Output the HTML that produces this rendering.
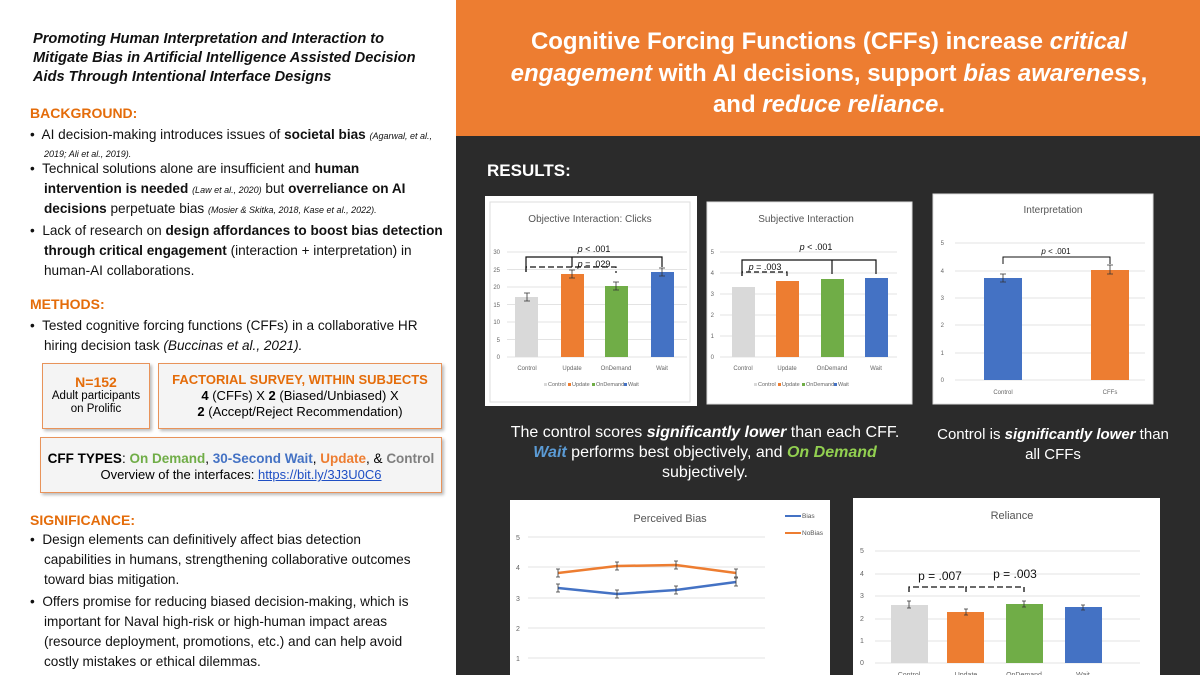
<!DOCTYPE html>
<html><head><meta charset="utf-8"><style>
body{margin:0;width:1200px;height:675px;overflow:hidden;font-family:"Liberation Sans",sans-serif;background:#fff;position:relative}
.l{position:absolute;white-space:nowrap;font-size:13.6px;color:#111}
.h{position:absolute;font-size:14px;font-weight:bold;color:#e46c0a}
.t{position:absolute;left:33px;font-size:14.6px;font-weight:bold;font-style:italic;color:#111;white-space:nowrap}
.s{font-size:9px;font-style:italic}
.box{position:absolute;border:1px solid #e8935a;background:#f4f4f4;box-shadow:2px 2px 3px #bbb;text-align:center;font-size:13px;line-height:16px}
</style></head><body>
<div class="t" style="top:31px">Promoting Human Interpretation and Interaction to</div>
<div class="t" style="top:50px">Mitigate Bias in Artificial Intelligence Assisted Decision</div>
<div class="t" style="top:69px">Aids Through Intentional Interface Designs</div>
<div class="h" style="left:30px;top:105px">BACKGROUND:</div>
<div class="l" style="left:30px;top:127px">•&nbsp; AI decision-making introduces issues of <b>societal bias</b> <span class="s">(Agarwal, et al.,</span></div>
<div class="l" style="left:44px;top:145px"><span class="s">2019; Ali et al., 2019).</span></div>
<div class="l" style="left:30px;top:161px">•&nbsp; Technical solutions alone are insufficient and <b>human</b></div>
<div class="l" style="left:44px;top:181px"><b>intervention is needed</b> <span class="s">(Law et al., 2020)</span> but <b>overreliance on AI</b></div>
<div class="l" style="left:44px;top:201px"><b>decisions</b> perpetuate bias <span class="s">(Mosier &amp; Skitka, 2018, Kase et al., 2022).</span></div>
<div class="l" style="left:30px;top:223px">•&nbsp; Lack of research on <b>design affordances to boost bias detection</b></div>
<div class="l" style="left:44px;top:243px"><b>through critical engagement</b> (interaction + interpretation) in</div>
<div class="l" style="left:44px;top:263px">human-AI collaborations.</div>
<div class="h" style="left:30px;top:296px">METHODS:</div>
<div class="l" style="left:30px;top:318px">•&nbsp; Tested cognitive forcing functions (CFFs) in a collaborative HR</div>
<div class="l" style="left:44px;top:338px">hiring decision task <i>(Buccinas et al., 2021).</i></div>
<div class="box" style="left:42px;top:363px;width:106px;height:64px"><div style="color:#e46c0a;font-weight:bold;font-size:14px;margin-top:10px">N=152</div><div style="font-size:11.5px;line-height:13px">Adult participants<br>on Prolific</div></div>
<div class="box" style="left:158px;top:363px;width:282px;height:64px"><div style="color:#e46c0a;font-weight:bold;margin-top:8px">FACTORIAL SURVEY, WITHIN SUBJECTS</div><div><b>4</b> (CFFs) X <b>2</b> (Biased/Unbiased) X</div><div><b>2</b> (Accept/Reject Recommendation)</div></div>
<div class="box" style="left:40px;top:437px;width:400px;height:54px"><div style="margin-top:13px;font-size:13.5px"><b>CFF TYPES</b>: <b style="color:#70ad47">On Demand</b>, <b style="color:#4472c4">30-Second Wait</b>, <b style="color:#ed7d31">Update</b>, &amp; <b style="color:#7f7f7f">Control</b></div><div>Overview of the interfaces: <span style="color:#1f4fc4;text-decoration:underline">https://bit.ly/3J3U0C6</span></div></div>
<div class="h" style="left:30px;top:512px">SIGNIFICANCE:</div>
<div class="l" style="left:30px;top:532px">•&nbsp; Design elements can definitively affect bias detection</div>
<div class="l" style="left:44px;top:552px">capabilities in humans, strengthening collaborative outcomes</div>
<div class="l" style="left:44px;top:572px">toward bias mitigation.</div>
<div class="l" style="left:30px;top:594px">•&nbsp; Offers promise for reducing biased decision-making, which is</div>
<div class="l" style="left:44px;top:614px">important for Naval high-risk or high-human impact areas</div>
<div class="l" style="left:44px;top:634px">(resource deployment, promotions, etc.) and can help avoid</div>
<div class="l" style="left:44px;top:654px">costly mistakes or ethical dilemmas.</div>

<svg style="position:absolute;left:0;top:0" width="1200" height="675" font-family="Liberation Sans, sans-serif">
<rect x="456" y="0" width="744" height="675" fill="#2b2b2b"/>
<rect x="456" y="0" width="744" height="136" fill="#ed7d31"/>
<g fill="#fff" font-weight="bold" font-size="24" text-anchor="middle">
<text x="829" y="49">Cognitive Forcing Functions (CFFs) increase <tspan font-style="italic">critical</tspan></text>
<text x="829" y="81"><tspan font-style="italic">engagement</tspan> with AI decisions, support <tspan font-style="italic">bias awareness</tspan>,</text>
<text x="829" y="112">and <tspan font-style="italic">reduce reliance</tspan>.</text>
</g>
<text x="487" y="176" fill="#fff" font-weight="bold" font-size="17">RESULTS:</text>
<g fill="#fff" font-size="16" text-anchor="middle">
<text x="705" y="437">The control scores <tspan font-weight="bold" font-style="italic">significantly lower</tspan> than each CFF.</text>
<text x="705" y="457"><tspan fill="#5b9bd5" font-weight="bold" font-style="italic">Wait</tspan> performs best objectively, and <tspan fill="#92d050" font-weight="bold" font-style="italic">On Demand</tspan></text>
<text x="705" y="477">subjectively.</text>
<text x="1053" y="439" font-size="15">Control is <tspan font-weight="bold" font-style="italic">significantly lower</tspan> than</text>
<text x="1053" y="459" font-size="15">all CFFs</text>
</g>

<!-- Chart 1 -->
<rect x="485" y="196" width="212" height="210" fill="#fff"/>
<rect x="490" y="202" width="200" height="200" fill="#fff" stroke="#ddd"/>
<text x="590" y="222" font-size="10" fill="#555" text-anchor="middle">Objective Interaction: Clicks</text>
<g stroke="#e3e3e3"><line x1="507" x2="687" y1="252" y2="252"/><line x1="507" x2="687" y1="269.5" y2="269.5"/><line x1="507" x2="687" y1="287" y2="287"/><line x1="507" x2="687" y1="304.5" y2="304.5"/><line x1="507" x2="687" y1="322" y2="322"/><line x1="507" x2="687" y1="339.5" y2="339.5"/><line x1="507" x2="687" y1="357" y2="357"/></g>
<g font-size="6" fill="#666" text-anchor="end"><text x="500" y="254">30</text><text x="500" y="272">25</text><text x="500" y="289">20</text><text x="500" y="307">15</text><text x="500" y="324">10</text><text x="500" y="342">5</text><text x="500" y="359">0</text></g>
<rect x="515" y="297" width="23" height="60" fill="#d9d9d9"/><rect x="561" y="274" width="23" height="83" fill="#ed7d31"/><rect x="605" y="286" width="23" height="71" fill="#70ad47"/><rect x="651" y="272" width="23" height="85" fill="#4472c4"/>
<g stroke="#333" stroke-width="0.8"><path d="M527 293v8M524 293h6M524 301h6M572 270v8M569 270h6M569 278h6M616 282v8M613 282h6M613 290h6M662 268v8M659 268h6M659 276h6"/></g>
<g font-size="6" fill="#666" text-anchor="middle"><text x="527" y="370">Control</text><text x="572" y="370">Update</text><text x="616" y="370">OnDemand</text><text x="662" y="370">Wait</text></g>
<g font-size="5.5" fill="#666"><rect x="544" y="383" width="3" height="3" fill="#d9d9d9"/><text x="548" y="386">Control</text><rect x="568" y="383" width="3" height="3" fill="#ed7d31"/><text x="572" y="386">Update</text><rect x="592" y="383" width="3" height="3" fill="#70ad47"/><text x="596" y="386">OnDemand</text><rect x="624" y="383" width="3" height="3" fill="#4472c4"/><text x="628" y="386">Wait</text></g>
<path d="M526 272v-15h136v10M572 257v10" stroke="#111" stroke-width="1.2" fill="none"/>
<path d="M526 272v-5h90v6" stroke="#111" stroke-width="1.2" fill="none" stroke-dasharray="6 3"/>
<text x="594" y="252" font-size="9" fill="#111" text-anchor="middle"><tspan font-style="italic">p</tspan> &lt; .001</text>
<text x="594" y="267" font-size="9" fill="#111" text-anchor="middle"><tspan font-style="italic">p</tspan> = .029</text>

<!-- Chart 2 -->
<rect x="707" y="202" width="205" height="202" fill="#fff" stroke="#ddd"/>
<text x="806" y="222" font-size="10" fill="#555" text-anchor="middle">Subjective Interaction</text>
<g stroke="#e3e3e3"><line x1="720" x2="897" y1="252" y2="252"/><line x1="720" x2="897" y1="273" y2="273"/><line x1="720" x2="897" y1="294" y2="294"/><line x1="720" x2="897" y1="315" y2="315"/><line x1="720" x2="897" y1="336" y2="336"/><line x1="720" x2="897" y1="357" y2="357"/></g>
<g font-size="6" fill="#666" text-anchor="end"><text x="714" y="254">5</text><text x="714" y="275">4</text><text x="714" y="296">3</text><text x="714" y="317">2</text><text x="714" y="338">1</text><text x="714" y="359">0</text></g>
<rect x="732" y="287" width="23" height="70" fill="#d9d9d9"/><rect x="776" y="281" width="23" height="76" fill="#ed7d31"/><rect x="821" y="279" width="23" height="78" fill="#70ad47"/><rect x="865" y="278" width="23" height="79" fill="#4472c4"/>
<g font-size="6" fill="#666" text-anchor="middle"><text x="743" y="370">Control</text><text x="787" y="370">Update</text><text x="832" y="370">OnDemand</text><text x="876" y="370">Wait</text></g>
<g font-size="5.5" fill="#666"><rect x="754" y="383" width="3" height="3" fill="#d9d9d9"/><text x="758" y="386">Control</text><rect x="778" y="383" width="3" height="3" fill="#ed7d31"/><text x="782" y="386">Update</text><rect x="802" y="383" width="3" height="3" fill="#70ad47"/><text x="806" y="386">OnDemand</text><rect x="834" y="383" width="3" height="3" fill="#4472c4"/><text x="838" y="386">Wait</text></g>
<path d="M742 276v-16h134v14M832 260v14" stroke="#111" stroke-width="1.2" fill="none"/>
<path d="M742 276v-4h45v4" stroke="#111" stroke-width="1.2" fill="none" stroke-dasharray="5 3"/>
<text x="816" y="250" font-size="9" fill="#111" text-anchor="middle"><tspan font-style="italic">p</tspan> &lt; .001</text>
<text x="765" y="270" font-size="9" fill="#111" text-anchor="middle"><tspan font-style="italic">p</tspan> = .003</text>

<!-- Chart 3 -->
<rect x="933" y="194" width="220" height="210" fill="#fff" stroke="#ddd"/>
<text x="1053" y="213" font-size="10" fill="#555" text-anchor="middle">Interpretation</text>
<g stroke="#e3e3e3"><line x1="955" x2="1145" y1="243" y2="243"/><line x1="955" x2="1145" y1="271" y2="271"/><line x1="955" x2="1145" y1="298" y2="298"/><line x1="955" x2="1145" y1="325" y2="325"/><line x1="955" x2="1145" y1="353" y2="353"/><line x1="955" x2="1145" y1="380" y2="380"/></g>
<g font-size="6" fill="#666" text-anchor="end"><text x="944" y="245">5</text><text x="944" y="273">4</text><text x="944" y="300">3</text><text x="944" y="327">2</text><text x="944" y="355">1</text><text x="944" y="382">0</text></g>
<rect x="984" y="278" width="38" height="102" fill="#4472c4"/><rect x="1091" y="270" width="38" height="110" fill="#ed7d31"/>
<g stroke="#333" stroke-width="0.8"><path d="M1003 274v8M1000 274h6M1000 282h6M1110 265v9M1107 265h6M1107 274h6"/></g>
<g font-size="6" fill="#666" text-anchor="middle"><text x="1003" y="394">Control</text><text x="1110" y="394">CFFs</text></g>
<path d="M1003 264v-7h107v7" stroke="#111" stroke-width="1" fill="none"/>
<text x="1056" y="254" font-size="8" fill="#111" text-anchor="middle"><tspan font-style="italic">p</tspan> &lt; .001</text>

<!-- Chart 4 -->
<rect x="510" y="500" width="320" height="175" fill="#fff"/>
<text x="670" y="522" font-size="11" fill="#555" text-anchor="middle">Perceived Bias</text>
<g stroke="#e3e3e3"><line x1="528" x2="765" y1="537" y2="537"/><line x1="528" x2="765" y1="567" y2="567"/><line x1="528" x2="765" y1="598" y2="598"/><line x1="528" x2="765" y1="628" y2="628"/><line x1="528" x2="765" y1="658" y2="658"/></g>
<g font-size="7" fill="#666"><text x="516" y="540">5</text><text x="516" y="570">4</text><text x="516" y="601">3</text><text x="516" y="631">2</text><text x="516" y="661">1</text></g>
<polyline points="558,573 617,566 676,565 736,573" fill="none" stroke="#ed7d31" stroke-width="2.5"/>
<polyline points="558,588 617,594 676,590 736,582" fill="none" stroke="#4472c4" stroke-width="2.5"/>
<g stroke="#333" stroke-width="0.8"><path d="M558 569v8M556 569h4M556 577h4M617 562v8M615 562h4M615 570h4M676 561v8M674 561h4M674 569h4M736 569v8M734 569h4M734 577h4M558 584v8M556 584h4M556 592h4M617 590v8M615 590h4M615 598h4M676 586v8M674 586h4M674 594h4M736 578v8M734 578h4M734 586h4"/></g>
<text x="802" y="518" font-size="6.5" fill="#555">Bias</text><line x1="785" x2="801" y1="516" y2="516" stroke="#4472c4" stroke-width="2"/>
<text x="802" y="535" font-size="6.5" fill="#555">NoBias</text><line x1="785" x2="801" y1="533" y2="533" stroke="#ed7d31" stroke-width="2"/>

<!-- Chart 5 -->
<rect x="853" y="498" width="307" height="177" fill="#fff"/>
<text x="1012" y="519" font-size="11" fill="#555" text-anchor="middle">Reliance</text>
<g stroke="#e3e3e3"><line x1="875" x2="1140" y1="551" y2="551"/><line x1="875" x2="1140" y1="574" y2="574"/><line x1="875" x2="1140" y1="596" y2="596"/><line x1="875" x2="1140" y1="619" y2="619"/><line x1="875" x2="1140" y1="641" y2="641"/><line x1="875" x2="1140" y1="663" y2="663"/></g>
<g font-size="7" fill="#666"><text x="860" y="553">5</text><text x="860" y="576">4</text><text x="860" y="598">3</text><text x="860" y="621">2</text><text x="860" y="643">1</text><text x="860" y="665">0</text></g>
<rect x="891" y="605" width="37" height="58" fill="#d9d9d9"/><rect x="947" y="612" width="37" height="51" fill="#ed7d31"/><rect x="1006" y="604" width="37" height="59" fill="#70ad47"/><rect x="1065" y="607" width="37" height="56" fill="#4472c4"/>
<g stroke="#333" stroke-width="0.8"><path d="M909 601v7M907 601h4M907 608h4M966 609v6M964 609h4M964 615h4M1024 601v6M1022 601h4M1022 607h4M1083 605v5M1081 605h4M1081 610h4"/></g>
<g font-size="7" fill="#666" text-anchor="middle"><text x="909" y="677">Control</text><text x="966" y="677">Update</text><text x="1024" y="677">OnDemand</text><text x="1083" y="677">Wait</text></g>
<path d="M909 592v-5h57v5M966 592v-5h58v5" stroke="#111" stroke-width="1.3" fill="none" stroke-dasharray="6 3"/>
<text x="940" y="580" font-size="12" fill="#111" text-anchor="middle">p = .007</text>
<text x="1015" y="578" font-size="12" fill="#111" text-anchor="middle">p = .003</text>
</svg>
</body></html>
